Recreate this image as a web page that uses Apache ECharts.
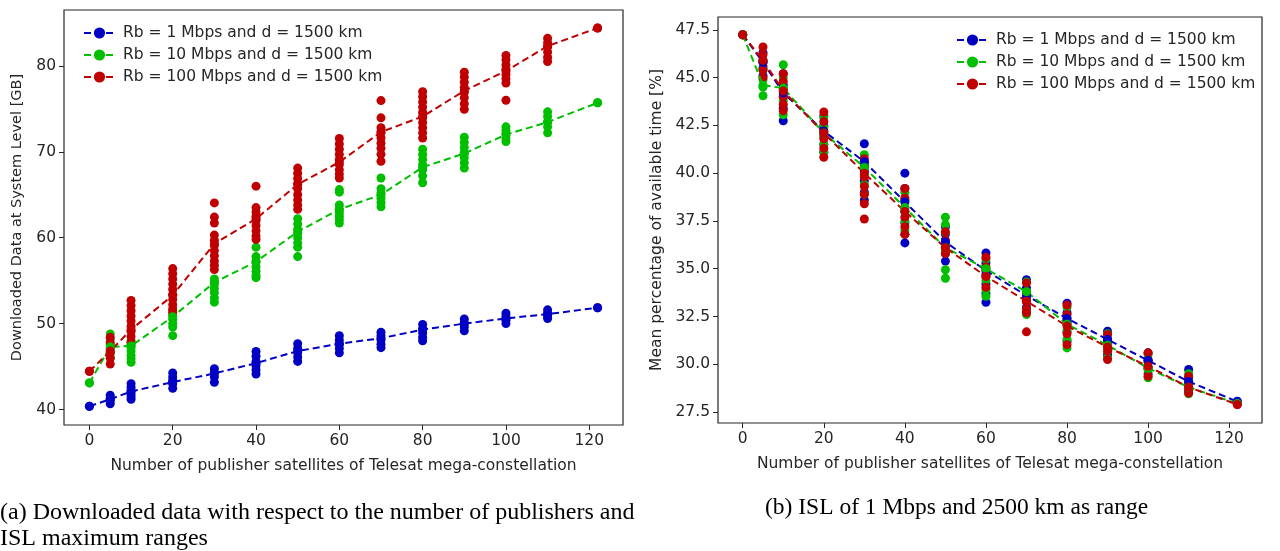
<!DOCTYPE html>
<html>
<head>
<meta charset="utf-8">
<script src="https://cdn.jsdelivr.net/npm/echarts@6/dist/echarts.min.js"></script>
<style>
  html, body { margin: 0; padding: 0; background: #fff; }
  #chart { width: 1280px; height: 551px; }
</style>
</head>
<body>
<div id="chart"></div>
<script>
// number of publisher satellites
const xs = [0, 5, 10, 20, 30, 40, 50, 60, 70, 80, 90, 100, 110, 122];
const names = ['Rb = 1 Mbps and d = 1500 km', 'Rb = 10 Mbps and d = 1500 km', 'Rb = 100 Mbps and d = 1500 km'];
const colors = ['#0000c4', '#00bf00', '#c00000'];

// (a) downloaded data [GB] - single runs and mean
const leftBlueRuns = [[40.38], [41.66, 41.3, 41.0, 40.66], [43.0, 42.6, 42.2, 41.8, 41.5, 41.2], [44.26, 43.8, 43.4, 43.0, 42.47],
  [44.75, 44.3, 43.8, 43.17], [46.76, 46.2, 45.6, 45.1, 44.6, 44.14], [47.66, 47.1, 46.6, 46.1, 45.6], [48.6, 48.1, 47.6, 47.1, 46.6],
  [49.0, 48.6, 48.1, 47.6, 47.2], [49.9, 49.4, 48.9, 48.4, 48.0], [50.55, 50.1, 49.6, 49.16], [51.2, 50.8, 50.4, 50.0],
  [51.6, 51.2, 50.9, 50.6], [51.85]];
const leftGreenRuns = [[43.1], [48.8, 48.2, 47.6, 47.0, 46.5, 46.0], [48.0, 47.6, 47.2, 46.8, 46.3, 45.9, 45.5], [51.5, 51.0, 50.5, 50.0, 49.6, 48.6],
  [55.2, 54.6, 54.1, 53.6, 53.0, 52.5], [58.9, 57.8, 57.2, 56.6, 56.1, 55.6, 55.35], [62.2, 61.6, 61.0, 60.5, 60.0, 59.4, 58.9, 57.8],
  [65.6, 65.3, 63.8, 63.3, 62.9, 62.5, 62.1, 61.7], [66.95, 65.7, 65.2, 64.6, 64.1, 63.6], [70.3, 69.7, 69.1, 68.5, 67.9, 67.2, 66.4],
  [71.7, 71.1, 70.5, 69.9, 69.3, 68.7, 68.1], [72.9, 72.5, 72.1, 71.6, 71.2], [74.65, 74.1, 73.5, 72.9, 72.2], [75.7]];
const leftRedRuns = [[44.45], [48.4, 47.8, 47.2, 46.6, 46.0, 45.3], [52.7, 52.1, 51.5, 50.9, 50.3, 49.7, 49.1, 48.5, 47.8],
  [56.4, 55.8, 55.2, 54.6, 54.0, 53.4, 52.8, 52.2, 51.7, 51.3], [64.05, 62.4, 61.7, 60.3, 59.7, 59.1, 58.5, 57.9, 57.3, 56.8, 56.3],
  [66.0, 63.5, 63.0, 62.5, 62.0, 61.4, 60.8, 60.2, 59.8], [68.1, 67.5, 66.9, 66.3, 65.7, 65.0, 64.4, 63.8, 63.3],
  [71.55, 70.9, 70.3, 69.7, 69.1, 68.5, 67.9, 67.4, 66.95], [75.96, 73.95, 72.8, 72.2, 71.6, 71.0, 70.4, 69.7, 68.9],
  [77.0, 76.4, 75.8, 75.2, 74.6, 74.0, 73.4, 72.8, 72.2, 71.6], [79.25, 78.7, 78.1, 77.5, 76.9, 76.3, 75.6, 74.95],
  [81.2, 80.7, 80.1, 79.6, 79.0, 78.5, 78.0, 76.0], [83.2, 82.7, 82.2, 81.6, 81.0, 80.5], [84.4]];
const leftBlueMean = [40.38, 41.2, 42.1, 43.2, 44.2, 45.4, 46.8, 47.66, 48.3, 49.3, 50.0, 50.6, 51.1, 51.85];
const leftGreenMean = [43.1, 47.3, 47.4, 50.8, 54.8, 57.2, 60.7, 63.3, 65.0, 68.2, 69.8, 72.0, 73.45, 75.7];
const leftRedMean = [44.45, 46.8, 49.3, 53.3, 59.3, 62.2, 66.2, 68.8, 72.3, 74.1, 77.1, 79.4, 82.3, 84.4];

// (b) mean percentage of available time [%]
const rightBlueRuns = [[47.24], [46.3, 45.9, 45.5, 45.1], [45.2, 44.6, 44.0, 43.4, 42.74], [43.0, 42.5, 42.0, 41.5, 41.1],
  [41.54, 40.6, 40.1, 39.6, 39.0, 38.6], [40.0, 39.2, 38.6, 38.0, 37.4, 36.8, 36.35], [37.2, 36.8, 36.3, 35.8, 35.4],
  [35.83, 35.3, 34.7, 34.2, 33.7, 33.25], [34.43, 34.0, 33.5, 33.0, 32.7], [33.2, 32.7, 32.2, 31.7, 31.2],
  [31.73, 31.3, 30.9, 30.5], [30.6, 30.2, 29.8, 29.5], [29.73, 29.3, 28.9, 28.6], [28.07]];
const rightGreenRuns = [[47.24], [45.9, 45.4, 44.9, 44.5, 44.05], [45.67, 45.0, 44.4, 43.8, 43.05], [42.9, 42.4, 41.9, 41.5, 41.1],
  [40.97, 40.4, 39.9, 39.4, 38.9], [39.0, 38.5, 38.0, 37.5, 37.0], [37.7, 37.3, 36.9, 36.4, 35.9, 34.95, 34.5],
  [35.5, 35.0, 34.4, 33.9, 33.56], [34.3, 33.8, 33.3, 32.9, 32.6], [33.0, 32.4, 31.8, 31.3, 30.86],
  [31.6, 31.1, 30.7, 30.34], [30.5, 30.1, 29.7, 29.3], [29.5, 29.1, 28.8, 28.46], [27.95]];
const rightRedRuns = [[47.24], [46.6, 46.2, 45.8, 45.4, 45.0], [45.2, 44.8, 44.4, 44.0, 43.6, 43.27], [43.2, 42.7, 42.2, 41.8, 41.3, 40.83],
  [40.76, 40.3, 39.8, 39.3, 38.9, 38.4, 37.6], [39.2, 38.7, 38.2, 37.7, 37.2, 36.8], [36.93, 36.5, 36.1, 35.8],
  [35.6, 35.1, 34.6, 34.03], [34.26, 33.8, 33.3, 32.9, 32.7, 31.7], [33.1, 32.6, 32.1, 31.6, 31.03],
  [31.56, 31.1, 30.7, 30.25], [30.6, 30.2, 29.8, 29.38], [29.38, 29.0, 28.7, 28.5], [27.9]];
const rightBlueMean = [47.24, 45.8, 44.2, 42.2, 40.6, 38.5, 36.4, 34.9, 33.6, 32.4, 31.3, 30.2, 29.1, 28.05];
const rightGreenMean = [47.24, 44.6, 44.45, 42.1, 40.3, 38.2, 36.1, 35.0, 33.8, 32.1, 31.0, 29.8, 28.8, 27.95];
const rightRedMean = [47.24, 45.9, 44.3, 42.1, 40.0, 38.0, 36.1, 34.6, 33.3, 32.0, 30.9, 29.9, 28.8, 27.9];

const xTicks = [0, 20, 40, 60, 80, 100, 120];
const leftYTicks = [40, 50, 60, 70, 80];
const rightYTicks = [27.5, 30.0, 32.5, 35.0, 37.5, 40.0, 42.5, 45.0, 47.5];

const font = 'DejaVu Sans';
const ink = '#262626';
const fs = 15.5;

function points(runs) {
  return runs.flatMap((vals, i) => vals.map((v) => [xs[i], v]));
}

function xAxis(idx) {
  return {
    type: 'value', gridIndex: idx, min: -6.1, max: 128.1,
    name: 'Number of publisher satellites of Telesat mega-constellation',
    nameLocation: 'middle', nameGap: 33,
    nameTextStyle: { fontFamily: font, fontSize: fs, color: ink },
    axisLine: { show: false, onZero: false },
    axisTick: { show: true, length: 5, customValues: xTicks, lineStyle: { color: ink } },
    axisLabel: { customValues: xTicks, fontFamily: font, fontSize: fs, color: ink, margin: 8 },
    splitLine: { show: false },
  };
}

function yAxis(idx, min, max, ticks, name, gap, digits, nameSize) {
  return {
    type: 'value', gridIndex: idx, min, max, name,
    nameLocation: 'middle', nameGap: gap,
    nameTextStyle: { fontFamily: font, fontSize: nameSize, color: ink },
    axisLine: { show: false, onZero: false },
    axisTick: { show: true, length: 5, customValues: ticks, lineStyle: { color: ink } },
    axisLabel: { customValues: ticks, fontFamily: font, fontSize: fs, color: ink, margin: 8,
      formatter: (v) => v.toFixed(digits) },
    splitLine: { show: false },
  };
}

function seriesFor(idx, runsList, meanList, prefix) {
  const out = [];
  runsList.forEach((runs, k) => {
    out.push({
      type: 'scatter', name: prefix + k, xAxisIndex: idx, yAxisIndex: idx,
      data: points(runs), symbolSize: 9, itemStyle: { color: colors[k], opacity: 1 }, silent: true,
    });
    out.push({
      type: 'line', name: names[k], xAxisIndex: idx, yAxisIndex: idx,
      data: meanList[k].map((v, i) => [xs[i], v]),
      symbol: 'circle', symbolSize: 9, showSymbol: true,
      itemStyle: { color: colors[k], opacity: 1 },
      lineStyle: { color: colors[k], width: 2, type: [7, 4] },
      silent: true,
    });
  });
  return out;
}

const legendText = { fontFamily: font, fontSize: fs, color: ink, padding: [0, 0, 0, 3] };

const chart = echarts.init(document.getElementById('chart'));
chart.setOption({
  animation: false,
  grid: [
    { left: 64, top: 10, width: 559, height: 415, show: true, borderColor: ink, borderWidth: 1.2 },
    { left: 718, top: 17, width: 544, height: 406, show: true, borderColor: ink, borderWidth: 1.2 },
  ],
  xAxis: [xAxis(0), xAxis(1)],
  yAxis: [
    yAxis(0, 38.2, 86.5, leftYTicks, 'Downloaded Data at System Level [GB]', 39, 0, 14.5),
    yAxis(1, 26.93, 48.17, rightYTicks, 'Mean percentage of available time [%]', 53, 1, fs),
  ],
  legend: [
    { data: names, orient: 'vertical', left: 78, top: 20, itemGap: 6, itemWidth: 31, itemHeight: 14,
      textStyle: legendText, selectedMode: false },
    { data: names, orient: 'vertical', left: 951, top: 27, itemGap: 6, itemWidth: 31, itemHeight: 14,
      textStyle: legendText, selectedMode: false },
  ],
  series: [
    ...seriesFor(0, [leftBlueRuns, leftGreenRuns, leftRedRuns], [leftBlueMean, leftGreenMean, leftRedMean], 'a'),
    ...seriesFor(1, [rightBlueRuns, rightGreenRuns, rightRedRuns], [rightBlueMean, rightGreenMean, rightRedMean], 'b'),
  ],
  graphic: [
    { type: 'text', left: 0, top: 500, style: { text: '(a) Downloaded data with respect to the number of publishers and\nISL maximum ranges',
      font: '24px "Liberation Serif"', fill: '#000', lineHeight: 26 } },
    { type: 'text', left: 765, top: 496, style: { text: '(b) ISL of 1 Mbps and 2500 km as range',
      font: '23.5px "Liberation Serif"', fill: '#000' } },
  ],
});
</script>
</body>
</html>
